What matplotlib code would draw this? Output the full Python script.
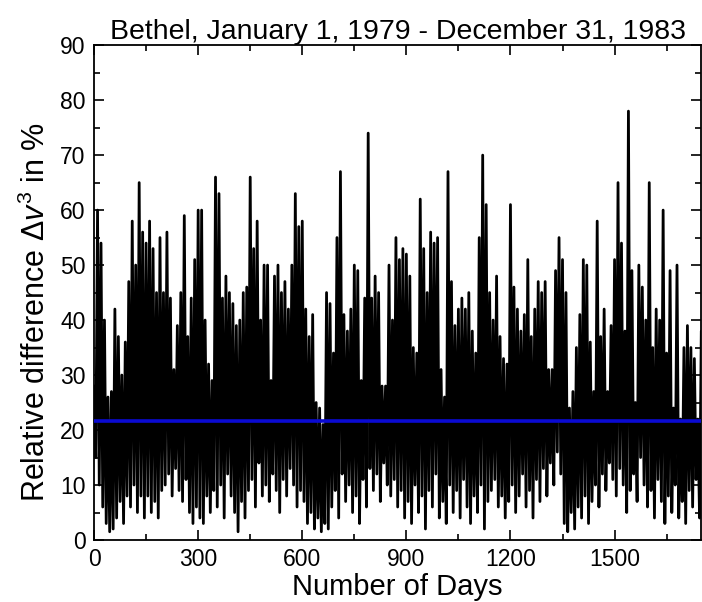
import matplotlib

matplotlib.use("Agg")
import matplotlib.pyplot as plt
import numpy as np
from matplotlib.ticker import MultipleLocator

plt.rcParams["font.family"] = ["Liberation Sans", "DejaVu Sans"]
plt.rcParams["mathtext.fontset"] = "custom"
plt.rcParams["mathtext.rm"] = "Liberation Sans"
plt.rcParams["mathtext.it"] = "Liberation Sans:italic"

# %%
# Data: local maxima (every 10 days, from day 0)
# and local minima (every 10 days, from day 5) of the daily series.
peak_days = np.arange(0, 1760, 10)
peak_values = [
    28, 60, 54, 40, 26, 27, 42, 37, 30, 36,
    47, 58, 50, 65, 56, 54, 58, 53, 45, 55,
    45, 56, 44, 31, 39, 45, 59, 37, 44, 51,
    60, 60, 40, 32, 29, 66, 63, 44, 48, 45,
    43, 39, 40, 45, 46, 66, 53, 58, 40, 50,
    50, 29, 48, 50, 45, 47, 42, 50, 63, 57,
    58, 42, 37, 41, 25, 24, 21, 45, 43, 34,
    55, 67, 41, 38, 42, 50, 49, 29, 44, 74,
    44, 48, 45, 28, 28, 50, 40, 55, 51, 53,
    52, 48, 35, 34, 62, 53, 45, 56, 54, 55,
    31, 26, 67, 47, 39, 42, 44, 42, 45, 38,
    34, 55, 70, 61, 45, 40, 48, 37, 33, 32,
    61, 46, 42, 38, 41, 51, 37, 42, 47, 45,
    47, 31, 31, 49, 55, 51, 45, 24, 27, 35,
    41, 51, 50, 36, 27, 58, 37, 42, 27, 39,
    51, 65, 54, 38, 78, 49, 25, 50, 46, 40,
    65, 35, 42, 40, 60, 34, 49, 24, 50, 22,
    35, 39, 35, 33, 22, 38,
]
trough_days = np.arange(5, 1765, 10)
trough_values = [
    15, 10, 6, 3, 1.5, 2, 4, 7, 3, 8,
    6, 10, 5, 8, 4, 8, 5, 7, 4, 9,
    10, 12, 8, 13, 9, 7, 11, 5, 3, 6,
    4, 3, 8, 5, 9, 6, 10, 4, 12, 8,
    5, 1.5, 7, 4, 9, 11, 6, 14, 8, 10,
    7, 12, 9, 5, 11, 8, 13, 10, 6, 9,
    7, 3, 5, 2, 4, 1.5, 3, 2, 6, 9,
    4, 12, 7, 10, 5, 8, 3, 11, 6, 13,
    9, 12, 7, 14, 10, 8, 11, 6, 9, 4,
    7, 3, 10, 5, 8, 2, 9, 6, 12, 4,
    7, 3, 10, 5, 9, 4, 11, 6, 3, 8,
    5, 10, 2, 7, 9, 11, 6, 8, 4, 7,
    10, 5, 8, 12, 6, 9, 4, 11, 7, 13,
    8, 14, 10, 16, 12, 3, 1.5, 5, 2, 6,
    4, 8, 3, 7, 10, 6, 12, 9, 14, 11,
    8, 13, 10, 5, 9, 12, 7, 15, 10, 6,
    9, 4, 11, 7, 3, 8, 5, 10, 4, 7,
    3, 9, 6, 11, 4, 8,
]
mean_value = 21.7  # [%]

# Interleave maxima and minima into one daily-ordered series.
days = np.empty(2 * len(peak_days))
values = np.empty(2 * len(peak_days))
days[0::2] = peak_days
days[1::2] = trough_days
values[0::2] = peak_values
values[1::2] = trough_values

# %%
# Plot.
fig = plt.figure(figsize=(7.02, 6.02), dpi=100)
ax = fig.add_axes([0.134, 0.103, 0.865, 0.822])

ax.plot(days, values, color="black", lw=2.0, zorder=2)
ax.axhline(mean_value, color="#0a0ad2", lw=2.6, zorder=3)

ax.set_xlim(0, 1750)
ax.set_ylim(0, 90)
ax.xaxis.set_major_locator(MultipleLocator(300))
ax.xaxis.set_minor_locator(MultipleLocator(150))
ax.yaxis.set_major_locator(MultipleLocator(10))
ax.yaxis.set_minor_locator(MultipleLocator(5))
ax.tick_params(which="both", direction="in", top=True, right=True,
               labelsize=16.5, width=1.2, pad=6)
ax.tick_params(which="major", length=7)
ax.tick_params(which="minor", length=4.5)
for spine in ax.spines.values():
    spine.set_linewidth(1.3)

ax.set_xlabel("Number of Days", fontsize=21, labelpad=1)
ax.set_ylabel(r"Relative difference $\Delta \mathit{v}^3$ in %",
              fontsize=22)
ax.yaxis.set_label_coords(-0.07, 0.46)
ax.set_title("Bethel, January 1, 1979 - December 31, 1983",
             fontsize=20.5, pad=4)

fig.savefig("out.png", dpi=100)
